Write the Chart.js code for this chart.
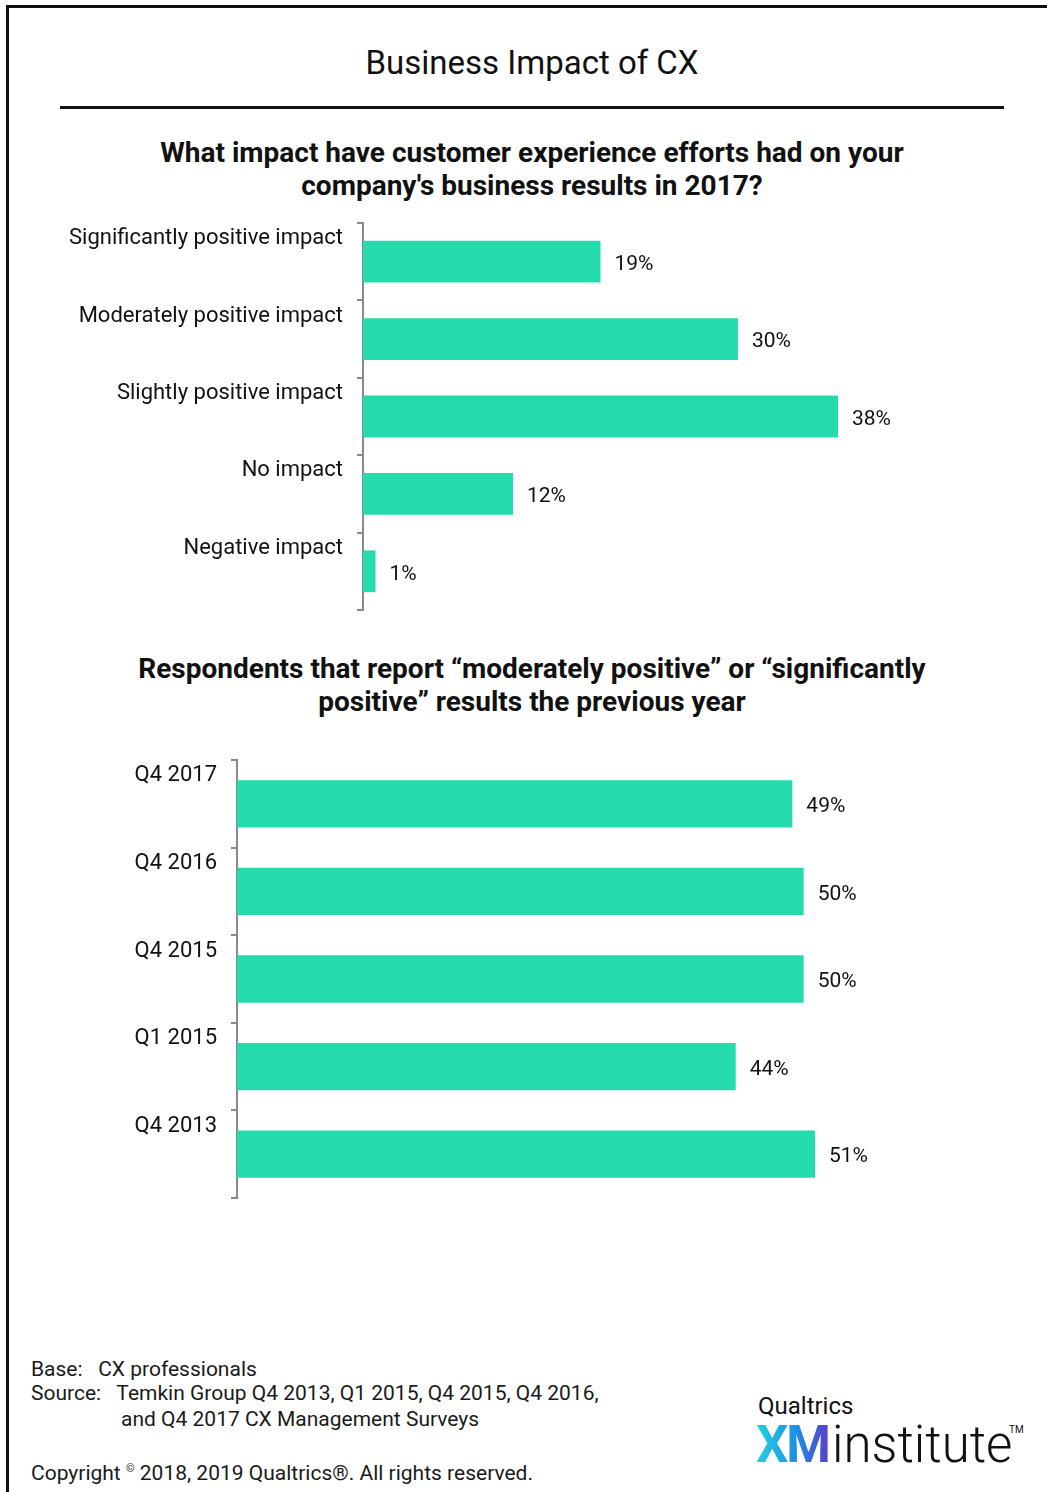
<!DOCTYPE html>
<html>

<head>
    <title>Business Impact of CX</title>
    <script src="https://cdn.jsdelivr.net/npm/chart.js"></script>
    <style>
        body { margin: 0; background: #fff; font-family: Roboto, "Open Sans", sans-serif; color: #111; }
        #page { position: relative; width: 1047px; height: 1492px; overflow: hidden; }
        .abs { position: absolute; }
        .frame { left: 6px; top: 5px; width: 1100px; height: 1600px; border-top: 3px solid #111; border-left: 3px solid #111; }
        .rule { left: 60px; top: 106px; width: 944px; height: 3px; background: #111; }
        .title { left: 0; width: 1064px; top: 43px; text-align: center; font-size: 33px; line-height: 40px; }
        .sub { left: 0; width: 1064px; text-align: center; font-size: 28px; line-height: 33px; font-weight: 700; }
        .foot { left: 31px; font-size: 21px; line-height: 25px; color: #1a1a1a; }
        .logo1 { left: 758px; top: 1392px; font-size: 24px; color: #111; }
        .logo2 { left: 756px; top: 1415px; font-size: 51px; line-height: 60px; white-space: nowrap; }
        .xm { font-weight: 700; letter-spacing: -2px; background: linear-gradient(90deg, #21d4df, #1d8fe4 55%, #5a3fc9); -webkit-background-clip: text; background-clip: text; color: transparent; }
        .inst { font-weight: 300; color: #111; margin-left: 3px; }
        .tm { left: 1009px; top: 1424px; font-size: 10px; }
    </style>
</head>

<body>
    <div id="page">
        <div class="abs frame"></div>
        <div class="abs title">Business Impact of CX</div>
        <div class="abs rule"></div>
        <div class="abs sub" style="top:136px">What impact have customer experience efforts had on your<br>company's business results in 2017?</div>
        <div class="abs" style="left:40px; top:215px; width:960px; height:400px;"><canvas id="impactChart"></canvas></div>
        <div class="abs sub" style="top:652px">Respondents that report “moderately positive” or “significantly<br>positive” results the previous year</div>
        <div class="abs" style="left:40px; top:750px; width:900px; height:460px;"><canvas id="trendChart"></canvas></div>

        <div class="abs foot" style="top:1357px">Base:&nbsp;&nbsp; CX professionals</div>
        <div class="abs foot" style="top:1381px">Source:&nbsp;&nbsp; Temkin Group Q4 2013, Q1 2015, Q4 2015, Q4 2016,</div>
        <div class="abs foot" style="top:1407px; left:121px">and Q4 2017 CX Management Surveys</div>
        <div class="abs foot" style="top:1456px">Copyright <sup style="font-size:11px">©</sup> 2018, 2019 Qualtrics®. All rights reserved.</div>

        <div class="abs logo1">Qualtrics</div>
        <div class="abs logo2"><span class="xm">XM</span><span class="inst">institute</span></div>
        <div class="abs tm">TM</div>
    </div>
    <script>
        // 資料
        const impactLabels = ['Significantly positive impact', 'Moderately positive impact', 'Slightly positive impact', 'No impact', 'Negative impact'];
        const impactValues = [19, 30, 38, 12, 1];
        const trendLabels = ['Q4 2017', 'Q4 2016', 'Q4 2015', 'Q1 2015', 'Q4 2013'];
        const trendValues = [49, 50, 50, 44, 51];

        const barColor = '#24dbab';
        const axisColor = '#8a8a8a';

        // 在長條右側寫百分比
        const valueLabels = {
            id: 'valueLabels',
            afterDatasetsDraw(chart) {
                const ctx = chart.ctx;
                const meta = chart.getDatasetMeta(0);
                const data = chart.data.datasets[0].data;
                ctx.save();
                ctx.font = '21px Roboto, sans-serif';
                ctx.fillStyle = '#111';
                ctx.textBaseline = 'middle';
                ctx.textAlign = 'left';
                meta.data.forEach((bar, i) => {
                    ctx.fillText(data[i] + '%', bar.x + 14, bar.y + 3);
                });
                ctx.restore();
            }
        };

        function makeChart(id, labels, values, opts) {
            return new Chart(document.getElementById(id), {
                type: 'bar',
                data: {
                    labels: labels,
                    datasets: [{
                        data: values,
                        backgroundColor: barColor,
                        borderWidth: 0,
                        barPercentage: 0.54,
                        categoryPercentage: 1
                    }]
                },
                options: {
                    indexAxis: 'y',
                    responsive: true,
                    maintainAspectRatio: false,
                    animation: false,
                    layout: { padding: opts.padding },
                    plugins: { legend: { display: false }, tooltip: { enabled: false } },
                    scales: {
                        x: { display: false, min: 0, max: opts.max },
                        y: {
                            afterFit: (scale) => {
                                scale.width = opts.axisWidth;
                                scale.paddingTop = 0;
                                scale.paddingBottom = 0;
                            },
                            border: { display: true, color: axisColor, width: 2 },
                            grid: { offset: true, drawOnChartArea: false, color: axisColor, lineWidth: 2, tickLength: 6 },
                            ticks: {
                                color: '#111',
                                font: { family: 'Roboto', size: 22 },
                                padding: 14,
                                labelOffset: opts.labelOffset
                            }
                        }
                    }
                },
                plugins: [valueLabels]
            });
        }

        makeChart('impactChart', impactLabels, impactValues, {
            max: 50, axisWidth: 323, labelOffset: -23,
            padding: { top: 8, bottom: 5, right: 12, left: 0 }
        });
        makeChart('trendChart', trendLabels, trendValues, {
            max: 60, axisWidth: 197, labelOffset: -28,
            padding: { top: 10, bottom: 12, right: 23, left: 0 }
        });
    </script>
</body>

</html>
